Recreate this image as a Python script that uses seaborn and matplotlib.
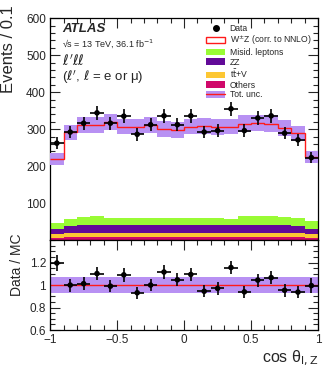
import numpy as np
import pandas as pd
import matplotlib
matplotlib.use("Agg")
import matplotlib.pyplot as plt
import seaborn as sns
from matplotlib.patches import Patch
from matplotlib.lines import Line2D
from matplotlib.ticker import MultipleLocator, FixedLocator, FixedFormatter

# 20 bins in cos(theta_lZ), width 0.1
bin_edges = np.linspace(-1.0, 1.0, 21)
bin_centers = 0.5 * (bin_edges[:-1] + bin_edges[1:])

data_counts = [262, 292, 316, 344, 316, 335, 286, 312, 336, 312,
               336, 292, 296, 355, 296, 330, 336, 289, 271, 223]
mc_total = [219, 292, 312, 312, 319, 307, 307, 312, 301, 298,
            307, 309, 305, 307, 315, 316, 315, 303, 289, 224]

others = [7, 8, 8, 8, 8, 8, 8, 8, 8, 8, 8, 8, 8, 8, 8, 8, 8, 8, 8, 7]
ttv = [10, 11, 11, 11, 11, 11, 11, 11, 11, 11, 11, 11, 11, 11, 11, 11, 11, 11, 11, 9]
zz = [13, 20, 21, 22, 22, 22, 22, 22, 22, 22, 22, 22, 22, 21, 22, 22, 21, 21, 19, 13]
misid = [16, 19, 22, 23, 20, 19, 19, 19, 19, 19, 19, 18, 18, 18, 23, 25, 24, 22, 22, 22]

rel_unc = 0.07  # total uncertainty band (relative)

process_names = ["W$^{\\pm}$Z (corr. to NNLO)", "Misid. leptons", "ZZ",
                 "t$\\bar{\\mathrm{t}}$+V", "Others"]
process_colors = ["white", "#99fb35", "#620a98", "#fdc733", "#d0086a"]
band_color = "#b891f3"
red = "#ff1a1a"

# WZ is the remainder of the total prediction
data_arr = np.array(data_counts, dtype=float)
mc_arr = np.array(mc_total, dtype=float)
wz = mc_arr - np.array(others) - np.array(ttv) - np.array(zz) - np.array(misid)

rows = []
for name, vals in zip(process_names, [wz, misid, zz, ttv, others]):
    for c, v in zip(bin_centers, vals):
        rows.append({"x": float(c), "w": float(v), "process": name})
df = pd.DataFrame(rows)

sns.set_style("ticks")
plt.rcParams["font.family"] = ["Liberation Sans", "DejaVu Sans"]
plt.rcParams["mathtext.fontset"] = "dejavusans"
plt.rcParams["axes.linewidth"] = 0.9

fig = plt.figure(figsize=(3.32, 3.70), dpi=100)
ax = fig.add_axes([0.151, 0.351, 0.807, 0.600])
rax = fig.add_axes([0.151, 0.108, 0.807, 0.243], sharex=ax)

# stacked backgrounds (last hue level ends up at the bottom)
sns.histplot(data=df, x="x", weights="w", hue="process", hue_order=process_names,
             palette=dict(zip(process_names, process_colors)), bins=20,
             binrange=(-1.0, 1.0), multiple="stack", element="step", fill=True,
             alpha=1, linewidth=0, legend=False, ax=ax)

ax.stairs(mc_arr * (1 + rel_unc), bin_edges, baseline=mc_arr * (1 - rel_unc),
          fill=True, color=band_color, lw=0, zorder=3)
ax.stairs(mc_arr, bin_edges, baseline=None, color=red, lw=1.0, zorder=4)

ax.errorbar(bin_centers, data_arr, xerr=0.05, yerr=np.sqrt(data_arr), fmt="none",
            ecolor="black", elinewidth=1.2, capsize=0, zorder=5)
sns.scatterplot(x=bin_centers, y=data_arr, color="black", s=16, edgecolor="none",
                zorder=6, ax=ax)

ax.set_xlim(-1, 1)
ax.set_ylim(0, 600)
ax.set_ylabel("")
ax.set_xlabel("")
ax.yaxis.set_major_locator(FixedLocator([100, 200, 300, 400, 500, 600]))
ax.yaxis.set_minor_locator(MultipleLocator(20))

# ratio panel
ratio = data_arr / mc_arr
ratio_err = np.sqrt(data_arr) / mc_arr
rax.fill_between([-1, 1], 1 - rel_unc, 1 + rel_unc, color=band_color, lw=0, zorder=1)
rax.axhline(1.0, color=red, lw=1.0, zorder=2)
rax.errorbar(bin_centers, ratio, xerr=0.05, yerr=ratio_err, fmt="none",
             ecolor="black", elinewidth=1.2, capsize=0, zorder=3)
sns.scatterplot(x=bin_centers, y=ratio, color="black", s=16, edgecolor="none",
                zorder=4, ax=rax)
rax.set_ylim(0.6, 1.4)
rax.yaxis.set_major_locator(FixedLocator([0.6, 0.8, 1.0, 1.2]))
rax.yaxis.set_major_formatter(FixedFormatter(["0.6", "0.8", "1", "1.2"]))
rax.yaxis.set_minor_locator(MultipleLocator(0.05))
rax.xaxis.set_major_locator(FixedLocator([-1, -0.5, 0, 0.5, 1]))
rax.xaxis.set_major_formatter(FixedFormatter(["\u22121", "\u22120.5", "0", "0.5", "1"]))
rax.xaxis.set_minor_locator(MultipleLocator(0.1))
rax.set_xlim(-1, 1)
rax.set_ylabel("")
rax.set_xlabel("")

for a in (ax, rax):
    a.tick_params(which="both", direction="in", top=True, right=True, width=0.8)
    a.tick_params(which="major", length=7, labelsize=8.5, pad=3)
    a.tick_params(which="minor", length=3.5)
    for s in a.spines.values():
        s.set_linewidth(0.9)
        s.set_color("black")
ax.tick_params(labelbottom=False)

# labels
fig.text(0.027, 0.986, "Events / 0.1", rotation=90, ha="center", va="top", fontsize=12)
fig.text(0.050, 0.370, "Data / MC", rotation=90, ha="center", va="top", fontsize=10)
fig.text(0.958, 0.020, "cos \u03b8$_{\\mathrm{l,Z}}$", ha="right", va="baseline", fontsize=11.5)

ax.text(0.045, 0.95, "ATLAS", transform=ax.transAxes, fontsize=9.5,
        fontweight="bold", fontstyle="italic", va="center")
ax.text(0.045, 0.883, "\u221as = 13 TeV, 36.1 fb$^{-1}$", transform=ax.transAxes,
        fontsize=6.5, va="center")
ax.text(0.045, 0.806, "$\\ell'\\ell\\ell$", transform=ax.transAxes, fontsize=10,
        va="center")
ax.text(0.045, 0.734, "($\\ell'$, $\\ell$ = e or \u03bc)", transform=ax.transAxes,
        fontsize=9.5, va="center")

handles = [
    Line2D([], [], marker="o", color="black", ls="none", markersize=4),
    Patch(facecolor="white", edgecolor=red, lw=1.0),
    Patch(facecolor=process_colors[1], lw=0),
    Patch(facecolor=process_colors[2], lw=0),
    Patch(facecolor=process_colors[3], lw=0),
    Patch(facecolor=process_colors[4], lw=0),
    (Patch(facecolor=band_color, lw=0), Line2D([], [], color=red, lw=1.0)),
]
labels = ["Data"] + process_names + ["Tot. unc."]
ax.legend(handles, labels, loc="upper left", bbox_to_anchor=(0.57, 0.99),
          frameon=False, fontsize=6.2, handlelength=2.2, handleheight=0.8,
          labelspacing=0.08, handletextpad=0.5, borderaxespad=0)

fig.savefig("out.png", dpi=100)
